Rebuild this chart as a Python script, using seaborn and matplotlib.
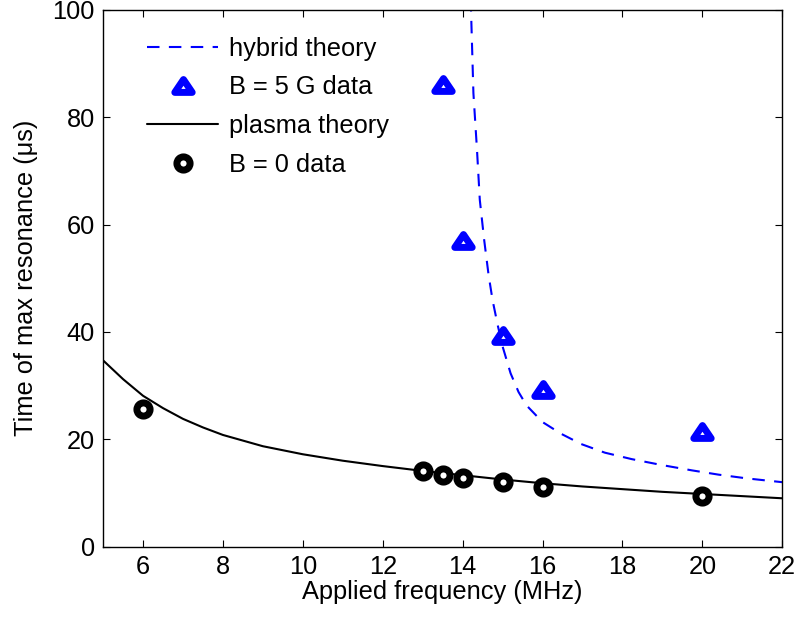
import matplotlib
matplotlib.use('Agg')
import matplotlib.pyplot as plt
from matplotlib.path import Path
import seaborn as sns

# Measured data
freq_b0 = [6, 13, 13.5, 14, 15, 16, 20]
time_b0 = [25.6, 14.0, 13.4, 12.7, 12.0, 11.1, 9.4]

freq_b5 = [13.5, 14, 15, 16, 20]
time_b5 = [86.0, 57.0, 39.2, 29.2, 21.3]

# Theory curves
freq_plasma = [5, 5.5, 6, 6.5, 7, 7.5, 8, 9, 10, 11, 12, 13, 14, 15, 16, 17, 18, 19, 20, 21, 22]
time_plasma = [34.7, 31.2, 28.1, 25.8, 23.8, 22.2, 20.8, 18.7, 17.2, 16.0, 15.0, 14.1, 13.3,
               12.5, 11.8, 11.2, 10.7, 10.2, 9.8, 9.4, 9.0]

freq_hybrid = [14.19, 14.21, 14.27, 14.36, 14.43, 14.54, 14.65, 14.75, 14.88, 15.0, 15.2,
               15.4, 15.6, 16.0, 16.47, 16.97, 17.56, 18.23, 18.98, 19.74, 20.41, 21.12, 22.0]
time_hybrid = [108, 100, 84.5, 73.9, 64.6, 57.1, 50.6, 45.9, 41.2, 37.3, 32.3,
               28.8, 26.3, 23.2, 21.0, 19.1, 17.5, 16.3, 15.2, 14.2, 13.4, 12.7, 12.0]

sns.set_theme(style='ticks')
plt.rcParams['font.family'] = ['Liberation Sans', 'DejaVu Sans']
plt.rcParams['text.color'] = 'black'
plt.rcParams['axes.labelcolor'] = 'black'
plt.rcParams['xtick.color'] = 'black'
plt.rcParams['ytick.color'] = 'black'

fs = 18.3

# wide, flat triangle like the original marker
tri = Path([(0, 0.8), (-1, -0.68), (1, -0.68), (0, 0.8)], closed=True)

fig, ax = plt.subplots(figsize=(7.99, 6.19), dpi=100)
fig.subplots_adjust(left=0.129, right=0.979, bottom=0.117, top=0.984)

sns.lineplot(x=freq_hybrid, y=time_hybrid, ax=ax, color='blue', linewidth=1.5,
             estimator=None, sort=False, label='hybrid theory')
ax.lines[-1].set_dashes((6, 4.5))
sns.lineplot(x=freq_b5, y=time_b5, ax=ax, color='blue', linestyle='', marker=tri,
             markersize=12.5, mfc='white', mec='blue', mew=5, estimator=None,
             label='B = 5 G data')
sns.lineplot(x=freq_plasma, y=time_plasma, ax=ax, color='black', linewidth=1.5,
             estimator=None, sort=False, label='plasma theory')
sns.lineplot(x=freq_b0, y=time_b0, ax=ax, color='black', linestyle='', marker='o',
             markersize=9.5, mfc='white', mec='black', mew=5, estimator=None,
             label='B = 0 data')

ax.set_xlim(5, 22)
ax.set_ylim(0, 100)
ax.set_xticks(range(6, 23, 2))
ax.set_yticks(range(0, 101, 20))
ax.tick_params(direction='in', top=True, right=True, length=5, labelsize=fs, width=0.8,
               pad=6)
for sp in ax.spines.values():
    sp.set_linewidth(1.0)
    sp.set_color('black')

ax.set_xlabel('Applied frequency (MHz)', fontsize=fs, labelpad=1)
ax.set_ylabel('Time of max resonance (\u03bcs)', fontsize=fs, labelpad=10)

ax.legend(loc='upper left', bbox_to_anchor=(0.065, 0.95), frameon=False, fontsize=fs,
          handlelength=2.8, labelspacing=0.58, handletextpad=0.4, borderaxespad=0,
          borderpad=0)

fig.savefig('out.png', dpi=100)
